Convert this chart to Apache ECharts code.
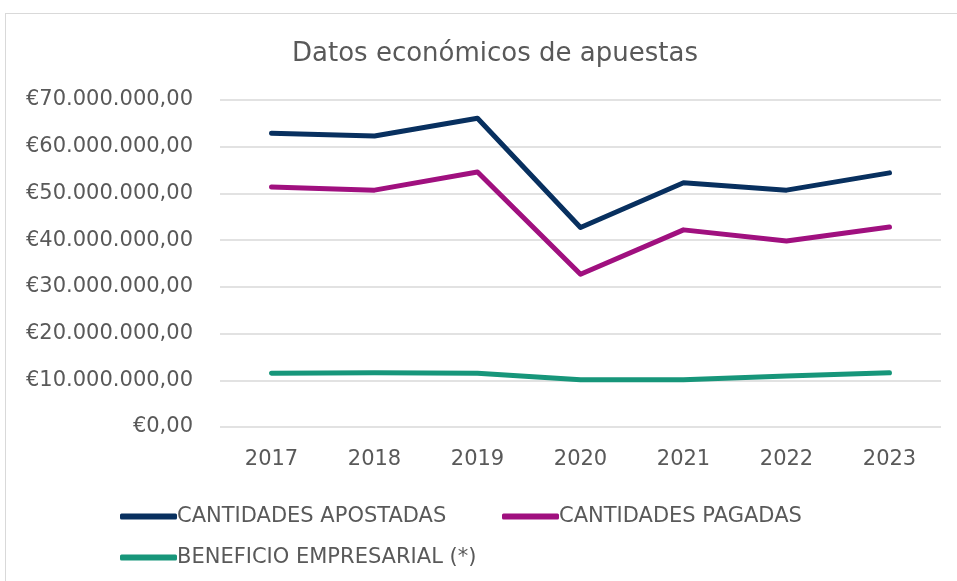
<!DOCTYPE html>
<html>
<head>
<meta charset="utf-8">
<script src="https://cdn.jsdelivr.net/npm/echarts@6/dist/echarts.min.js"></script>
<style>
  html, body { margin: 0; padding: 0; background: #fff; }
  #box { position: absolute; left: 5px; top: 13px; width: 960px; height: 580px; border: 1px solid #d9d9d9; }
  #main { width: 957px; height: 581px; position: absolute; left: 0; top: 0; }
</style>
</head>
<body>
<div id="box"></div>
<div id="main"></div>
<script>
const years = ['2017', '2018', '2019', '2020', '2021', '2022', '2023'];
const apostadas = [62900000, 62300000, 66100000, 42700000, 52300000, 50700000, 54400000];
const pagadas = [51400000, 50700000, 54600000, 32700000, 42200000, 39800000, 42800000];
const beneficio = [11500000, 11600000, 11500000, 10100000, 10100000, 10900000, 11600000];
const names = ['CANTIDADES APOSTADAS', 'CANTIDADES PAGADAS', 'BENEFICIO EMPRESARIAL (*)'];

const font = '"DejaVu Sans", sans-serif';
const txt = '#595959';

function euro(v) {
  let s = Math.round(v).toString().replace(/\B(?=(\d{3})+(?!\d))/g, '.');
  return '€' + s + ',00';
}

// one legend per item so each can sit where the reference puts it
function legendItem(name, left, top) {
  return {
    data: [name],
    left: left,
    top: top,
    icon: 'roundRect',
    itemWidth: 57,
    itemHeight: 6,
    itemGap: 0,
    textStyle: { fontFamily: font, fontSize: 21, color: txt, padding: [0, 0, 0, -5] }
  };
}

let myChart = echarts.init(document.getElementById('main'));
let option = {
  animation: false,
  color: ['#08305f', '#a0107f', '#17967a'],
  title: {
    text: 'Datos económicos de apuestas',
    left: 490,
    textAlign: 'center',
    top: 36,
    textStyle: { fontFamily: font, fontWeight: 'normal', fontSize: 26, color: txt }
  },
  legend: [
    legendItem(names[0], 115, 501),
    legendItem(names[1], 497, 501),
    legendItem(names[2], 115, 542)
  ],
  grid: { left: 220, right: 16, top: 100, bottom: 154 },
  xAxis: {
    type: 'category',
    data: years,
    axisLine: { show: false },
    axisTick: { show: false },
    axisLabel: { fontFamily: font, fontSize: 21, color: txt, margin: 22 }
  },
  yAxis: {
    type: 'value',
    min: 0,
    max: 70000000,
    interval: 10000000,
    axisLine: { show: false },
    axisTick: { show: false },
    splitLine: { lineStyle: { color: '#d9d9d9', width: 1.5 } },
    axisLabel: { fontFamily: font, fontSize: 21, color: txt, margin: 27, formatter: euro }
  },
  series: [
    { name: names[0], type: 'line', data: apostadas, showSymbol: false, lineStyle: { width: 5, cap: 'round', join: 'round' } },
    { name: names[1], type: 'line', data: pagadas, showSymbol: false, lineStyle: { width: 5, cap: 'round', join: 'round' } },
    { name: names[2], type: 'line', data: beneficio, showSymbol: false, lineStyle: { width: 5, cap: 'round', join: 'round' } }
  ]
};
myChart.setOption(option);
</script>
</body>
</html>
